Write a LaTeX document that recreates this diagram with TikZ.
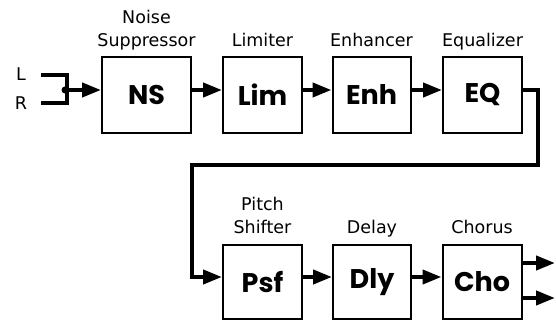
\documentclass[tikz,border=0pt]{standalone}
\usepackage{fontspec}
\setmainfont{DejaVu Sans}
\newfontfamily\boxfont{Poppins}
\usepackage{tikz}
\usetikzlibrary{positioning,arrows.meta}

\begin{document}
\begin{tikzpicture}[x=1pt, y=-1pt,
  every node/.style={inner sep=0pt},
  fx/.style={rectangle, draw, line width=2pt, minimum height=76pt, font=\boxfont\bfseries\fontsize{27}{27}\selectfont},
  lbl/.style={align=center, text depth=4pt, font=\fontsize{17.5}{23}\selectfont},
  sig/.style={line width=4pt},
  arr/.style={sig, -{Triangle[length=19pt,width=14pt]}}]
  \useasboundingbox (0,0) rectangle (556,320);
  % effect blocks
  \node[fx, minimum width=89pt] (NS)  at (146.5,95) {NS};
  \node[fx, minimum width=79pt] (Lim) at (262.5,95) {Lim};
  \node[fx, minimum width=78pt] (Enh) at (371.5,95) {Enh};
  \node[fx, minimum width=79pt] (EQ)  at (482.5,95) {EQ};
  \node[fx, minimum width=79pt, minimum height=74pt] (Psf) at (262.5,282) {Psf};
  \node[fx, minimum width=78pt, minimum height=74pt] (Dly) at (372,282)   {Dly};
  \node[fx, minimum width=79pt, minimum height=74pt] (Cho) at (482,282)   {Cho};
  % labels
  \node[lbl, above=5pt of NS]  (NSl)  {Noise\\Suppressor};
  \node[lbl, above=5pt of Lim] (Liml) {Limiter};
  \node[lbl, above=5pt of Enh] (Enhl) {Enhancer};
  \node[lbl, above=5pt of EQ]  (EQl)  {Equalizer};
  \node[lbl, above=6pt of Psf] (Psfl) {Pitch\\Shifter};
  \node[lbl, above=6pt of Dly] (Dlyl) {Delay};
  \node[lbl, above=6pt of Cho] (Chol) {Chorus};
  % inputs
  \node[font=\fontsize{17.5}{17.5}\selectfont] (L) at (21,74)  {L};
  \node[font=\fontsize{17.5}{17.5}\selectfont] (R) at (21,103) {R};
  \coordinate (lin) at (41,75);
  \coordinate (rin) at (41,103);
  \coordinate (jn)  at (67,90);
  \draw[sig] (lin) -| (jn) |- (rin);
  \fill (jn) ++(-2,0) circle (3.5pt);
  \draw[arr] (jn) -- ([yshift=5pt]NS.west);
  % chain
  \draw[arr] ([yshift=5pt]NS.east)  -- ([yshift=5pt]Lim.west);
  \draw[arr] ([yshift=5pt]Lim.east) -- ([yshift=5pt]Enh.west);
  \draw[arr] ([yshift=5pt]Enh.east) -- ([yshift=5pt]EQ.west);
  \coordinate (c1) at (538,165);
  \coordinate (c2) at (192,165);
  \draw[arr] ([yshift=5pt]EQ.east) -| (c1) -- (c2) |- ([yshift=5pt]Psf.west);
  \draw[arr] ([yshift=5pt]Psf.east) -- ([yshift=5pt]Dly.west);
  \draw[arr] ([yshift=5pt]Dly.east) -- ([yshift=5pt]Cho.west);
  % outputs
  \coordinate (out1) at (555,263);
  \coordinate (out2) at (555,298);
  \draw[arr] ([yshift=19pt]Cho.east)  -- (out1);
  \draw[arr] ([yshift=-16pt]Cho.east) -- (out2);
\end{tikzpicture}
\end{document}
